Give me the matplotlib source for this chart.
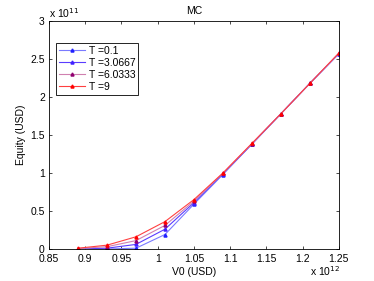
import matplotlib
matplotlib.use("Agg")
import matplotlib.pyplot as plt
from matplotlib.ticker import FuncFormatter

plt.rcParams['font.family'] = ['Liberation Sans', 'DejaVu Sans']
plt.rcParams['font.size'] = 7.5

# V0 in units of 1e12, equity in units of 1e11
v0 = [0.89, 0.93, 0.97, 1.01, 1.05, 1.09, 1.13, 1.17, 1.21, 1.25]
labels = ['T =0.1', 'T =3.0667', 'T =6.0333', 'T =9']
eq_t1 = [0.0, 0.0, 0.01, 0.19, 0.59, 0.98, 1.38, 1.78, 2.18, 2.57]
eq_t2 = [0.0, 0.01, 0.06, 0.26, 0.61, 0.99, 1.38, 1.78, 2.18, 2.57]
eq_t3 = [0.005, 0.03, 0.11, 0.31, 0.63, 0.995, 1.385, 1.78, 2.18, 2.575]
eq_t4 = [0.01, 0.05, 0.16, 0.36, 0.65, 1.0, 1.39, 1.78, 2.18, 2.58]
series = [eq_t1, eq_t2, eq_t3, eq_t4]

line_cols = ['#7a7aff', '#5a3cff', '#d080b0', '#ff4040']
mark_cols = ['#2020ff', '#4020ff', '#900070', '#ff0000']

fig = plt.figure(figsize=(3.74, 2.81), dpi=100)
ax = fig.add_axes([0.131, 0.114, 0.775, 0.811])

for y, lab, lc, mc in zip(series, labels, line_cols, mark_cols):
    ax.plot(v0, y, color=lc, lw=0.8, marker='^', ms=2.2,
            markerfacecolor=mc, markeredgecolor=mc, label=lab)

ax.set_xlim(0.85, 1.25)
ax.set_ylim(0, 3)
ax.set_xticks([0.85, 0.9, 0.95, 1.0, 1.05, 1.1, 1.15, 1.2, 1.25])
ax.set_yticks([0, 0.5, 1, 1.5, 2, 2.5, 3])
fmt = FuncFormatter(lambda v, p: ('%g' % round(v, 4)))
ax.xaxis.set_major_formatter(fmt)
ax.yaxis.set_major_formatter(fmt)
ax.tick_params(axis='x', direction='in', length=2.5, width=0.5, top=True, pad=3.5)
ax.tick_params(axis='y', direction='in', length=2.5, width=0.5, right=True, pad=3)
for s in ax.spines.values():
    s.set_linewidth(0.6)

ax.set_xlabel('V0 (USD)', labelpad=2.5)
ax.set_ylabel('Equity (USD)', labelpad=3)
ax.set_title('MC', fontsize=7.5, pad=5)

fig.text(0.131, 0.93, r'x 10$^{11}$', ha='left', va='bottom', fontsize=7.5)
fig.text(0.91, 0.01, r'x 10$^{12}$', ha='right', va='bottom', fontsize=7.5)

leg = ax.legend(loc='upper left', bbox_to_anchor=(0.025, 0.905), fancybox=False,
                edgecolor='black', framealpha=1, fontsize=7.5, handlelength=2.5,
                borderpad=0.3, labelspacing=0.2, handletextpad=0.3,
                borderaxespad=0)
leg.get_frame().set_linewidth(0.6)

fig.savefig('out.png', dpi=100)
